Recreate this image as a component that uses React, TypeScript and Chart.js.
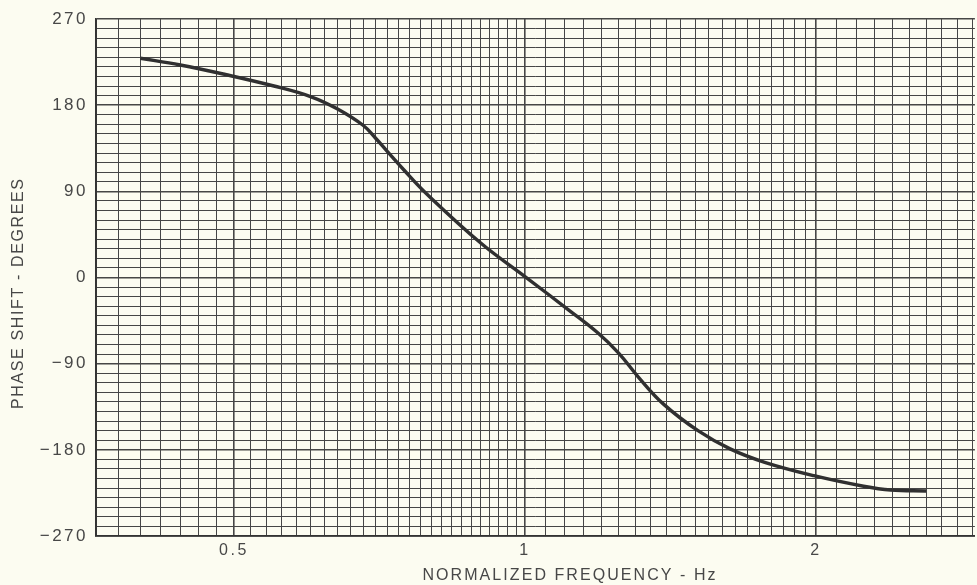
import React, { useEffect, useRef } from "react";
import { Chart, registerables } from "chart.js";

Chart.register(...registerables);

// ---- data ----
const frequencies = [0.40, 0.44, 0.49, 0.55, 0.60, 0.64, 0.68, 0.70, 0.72, 0.75, 0.79, 0.90, 1.00, 1.11, 1.19, 1.25, 1.31, 1.39, 1.51, 1.63, 1.77, 1.99, 2.24, 2.39, 2.60];
const phaseDegrees = [229, 222, 212, 200, 189, 176, 159, 146, 132, 112, 88, 36, 1, -34, -58, -79, -104, -132, -160, -179, -193, -207, -218, -222, -223];

const xLabelValues = [0.5, 1, 2];
const yLabelValues = [270, 180, 90, 0, -90, -180, -270];
const xTitle = "NORMALIZED FREQUENCY - Hz";
const yTitle = "PHASE SHIFT - DEGREES";

const xMin = 0.36;
const xMax = 2.92;
const yMin = -270;
const yMax = 270;

// grid rulings of the log paper
const xGridValues: number[] = [];
for (let v = 36; v < 100; v += 2) xGridValues.push(v / 100);
for (let v = 100; v < 200; v += 5) xGridValues.push(v / 100);
for (let v = 20; v <= 29; v += 1) xGridValues.push(v / 10);

const FONT = "'Liberation Sans', Arial, sans-serif";
const TEXT = "#474747";
const GRID = "#464646";
const PAPER = "#fcfcf1";

const isLabelX = (v: number) => xLabelValues.some((l) => Math.abs(l - v) < 1e-6);
const isLabelY = (v: number) => yLabelValues.some((l) => Math.abs(l - v) < 1e-6);

function drawSpaced(ctx: CanvasRenderingContext2D, text: string, cx: number, cy: number, width: number) {
  (ctx as any).letterSpacing = "0px";
  const w = ctx.measureText(text).width;
  const sp = Math.max(0, (width - w) / (text.length - 1));
  (ctx as any).letterSpacing = sp + "px";
  ctx.textAlign = "left";
  ctx.fillText(text, cx - width / 2, cy);
  (ctx as any).letterSpacing = "0px";
}

const paperPlugin = {
  id: "paper",
  beforeDraw(chart: any) {
    const ctx = chart.ctx as CanvasRenderingContext2D;
    ctx.save();
    ctx.fillStyle = PAPER;
    ctx.fillRect(0, 0, chart.width, chart.height);
    ctx.restore();
    (ctx as any).letterSpacing = "2.5px";
  },
  afterDraw(chart: any) {
    const ctx = chart.ctx as CanvasRenderingContext2D;
    (ctx as any).letterSpacing = "0px";
    ctx.save();
    ctx.fillStyle = TEXT;
    ctx.font = `16px ${FONT}`;
    ctx.textBaseline = "middle";
    drawSpaced(ctx, xTitle, 569, 576, 293);
    ctx.translate(19, 294);
    ctx.rotate(-Math.PI / 2);
    drawSpaced(ctx, yTitle, 0, 0, 230);
    ctx.restore();
  },
};

export default function App() {
  const canvasRef = useRef<HTMLCanvasElement | null>(null);

  useEffect(() => {
    const canvas = canvasRef.current;
    if (!canvas) return;
    const chart = new Chart(canvas, {
      type: "line",
      data: {
        datasets: [
          {
            data: frequencies.map((f, i) => ({ x: f, y: phaseDegrees[i] })),
            borderColor: "#303030",
            borderWidth: 3.4,
            pointRadius: 0,
            tension: 0.4,
            fill: false,
          },
        ],
      },
      options: {
        responsive: false,
        animation: false,
        layout: { padding: { top: 19, right: 0, left: 0, bottom: 0 } },
        plugins: {
          legend: { display: false },
          tooltip: { enabled: false },
          title: { display: false },
        },
        scales: {
          x: {
            type: "logarithmic",
            min: xMin,
            max: xMax,
            afterBuildTicks: (scale: any) => {
              scale.ticks = xGridValues.map((v) => ({ value: v }));
            },
            afterFit: (scale: any) => {
              scale.height = 49;
            },
            ticks: {
              autoSkip: false,
              maxRotation: 0,
              minRotation: 0,
              padding: 5,
              color: TEXT,
              font: { family: FONT, size: 16 },
              callback: (value: any) => {
                const v = Number(value);
                return isLabelX(v) ? String(v) : "";
              },
            },
            grid: {
              drawTicks: false,
              color: GRID,
              lineWidth: (c: any) => (c.tick && isLabelX(c.tick.value) ? 1.6 : 1),
            },
            border: { display: true, color: "#333333", width: 1.8 },
          },
          y: {
            type: "linear",
            min: yMin,
            max: yMax,
            afterFit: (scale: any) => {
              scale.width = 96;
            },
            ticks: {
              stepSize: 10,
              autoSkip: false,
              padding: 8,
              color: TEXT,
              font: { family: FONT, size: 17 },
              callback: (value: any) => {
                const v = Number(value);
                if (!isLabelY(v)) return "";
                return v < 0 ? "\u2212" + Math.abs(v) : String(v);
              },
            },
            grid: {
              drawTicks: false,
              color: GRID,
              lineWidth: (c: any) => (c.tick && isLabelY(c.tick.value) ? 1.6 : 1),
            },
            border: { display: true, color: "#333333", width: 1.8 },
          },
        },
      },
      plugins: [paperPlugin],
    } as any);
    return () => chart.destroy();
  }, []);

  return (
    <div style={{ position: "absolute", left: 0, top: 0, width: 977, height: 585, background: PAPER }}>
      <canvas ref={canvasRef} width={977} height={585} style={{ display: "block" }} />
    </div>
  );
}
